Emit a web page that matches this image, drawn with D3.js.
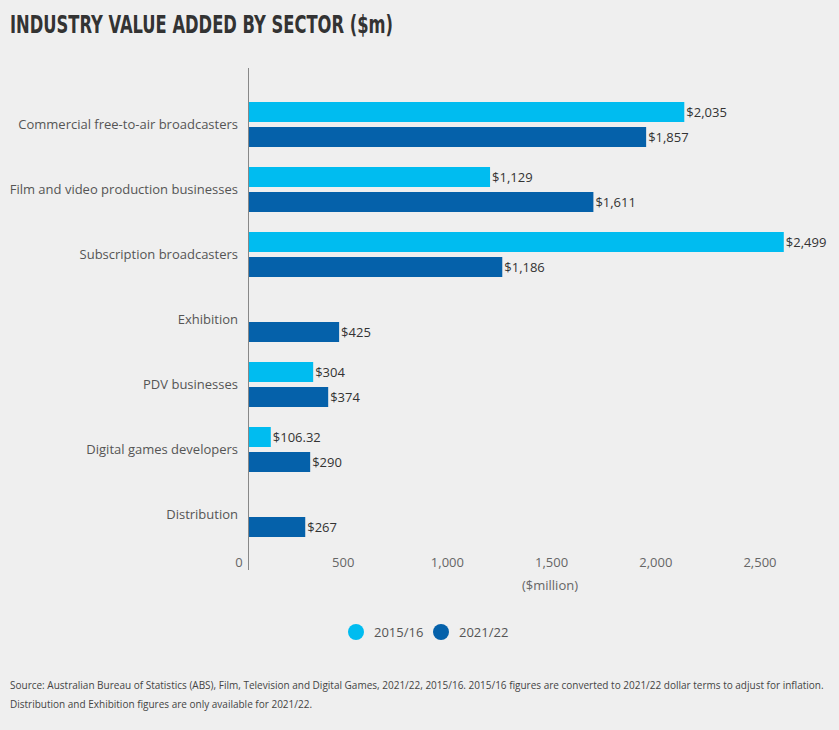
<!DOCTYPE html>
<html>
<head>
<meta charset="utf-8">
<script src="https://cdn.jsdelivr.net/npm/d3@7"></script>
<style>
  html, body { margin: 0; padding: 0; background: #efefef; }
  body { width: 839px; height: 730px; overflow: hidden; font-family: "Open Sans", sans-serif; }
</style>
</head>
<body>
<div id="chart"></div>
<script>
var width = 839
var height = 730

// data
var categories = ["Commercial free-to-air broadcasters", "Film and video production businesses", "Subscription broadcasters", "Exhibition", "PDV businesses", "Digital games developers", "Distribution"]
var seriesNames = ["2015/16", "2021/22"]
var values1516 = [2035, 1129, 2499, null, 304, 106.32, null]
var values2122 = [1857, 1611, 1186, 425, 374, 290, 267]
var labels1516 = ["$2,035", "$1,129", "$2,499", null, "$304", "$106.32", null]
var labels2122 = ["$1,857", "$1,611", "$1,186", "$425", "$374", "$290", "$267"]
var tickValues = [0, 500, 1000, 1500, 2000, 2500]
var colors = ["#00bcf0", "#0561aa"]

var svg = d3.select("#chart")
    .append("svg")
    .attr("width", width)
    .attr("height", height)

svg.append("text")
    .attr("x", 10)
    .attr("y", 33)
    .attr("textLength", 383)
    .attr("lengthAdjust", "spacingAndGlyphs")
    .style("font-family", "'DejaVu Sans Condensed', 'DejaVu Sans', sans-serif")
    .style("font-weight", "bold")
    .style("font-size", "24px")
    .style("fill", "#333")
    .text("INDUSTRY VALUE ADDED BY SECTOR ($m)")

var x = d3.scaleLinear().domain([0, 2500]).range([248, 784])
// tick labels in the reference sit on their own slightly narrower spacing
var xTick = d3.scaleLinear().domain([0, 2500]).range([239, 760])

var y = d3.scaleBand()
    .domain(categories)
    .range([92, 547])
    .paddingInner(20 / 65)
    .paddingOuter(10 / 65)

var ySub = d3.scaleBand()
    .domain(seriesNames)
    .range([0, y.bandwidth()])
    .paddingInner(0.2)

var rows = categories.map((c, i) => ({
    name: c,
    bars: [
        { series: seriesNames[0], value: values1516[i], label: labels1516[i], color: colors[0] },
        { series: seriesNames[1], value: values2122[i], label: labels2122[i], color: colors[1] }
    ].filter(b => b.value != null)
}))

// axis line
svg.append("line")
    .attr("x1", x(0) + 0.5).attr("x2", x(0) + 0.5)
    .attr("y1", 68).attr("y2", 570)
    .style("stroke", "#888")
    .style("stroke-width", 1)

// category labels
svg.append("g")
    .selectAll("text")
    .data(categories)
    .enter()
    .append("text")
        .attr("x", 238)
        .attr("y", d => y(d) + y.bandwidth() / 2)
        .attr("dy", "0.32em")
        .style("text-anchor", "end")
        .style("font-size", "13px")
        .style("fill", "#555")
        .text(d => d)

var group = svg.append("g")
    .selectAll("g")
    .data(rows)
    .enter()
    .append("g")
    .attr("transform", d => "translate(0," + y(d.name) + ")")

group.selectAll("rect")
    .data(d => d.bars)
    .enter()
    .append("rect")
        .attr("x", x(0) + 1)
        .attr("y", d => ySub(d.series))
        .attr("width", d => x(d.value) - x(0) - 1)
        .attr("height", ySub.bandwidth())
        .style("fill", d => d.color)

group.selectAll(".val")
    .data(d => d.bars)
    .enter()
    .append("text")
        .attr("class", "val")
        .attr("x", d => x(d.value) + 2)
        .attr("y", d => ySub(d.series) + ySub.bandwidth() / 2)
        .attr("dy", "0.35em")
        .style("font-size", "13px")
        .style("fill", "#333")
        .text(d => d.label)

// tick labels
svg.append("g")
    .selectAll("text")
    .data(tickValues)
    .enter()
    .append("text")
        .attr("x", d => xTick(d))
        .attr("y", 567)
        .style("text-anchor", "middle")
        .style("font-size", "13px")
        .style("fill", "#666")
        .text(d => d3.format(",")(d))

svg.append("text")
    .attr("x", 550)
    .attr("y", 590)
    .style("text-anchor", "middle")
    .style("font-size", "13px")
    .style("fill", "#666")
    .text("($million)")

// legend
var legend = svg.append("g")
    .selectAll("g")
    .data(seriesNames)
    .enter()
    .append("g")
    .attr("transform", (d, i) => "translate(" + (356 + i * 85) + ",632)")

legend.append("circle")
    .attr("r", 8)
    .style("fill", (d, i) => colors[i])

legend.append("text")
    .attr("x", 18)
    .attr("dy", "0.35em")
    .style("font-size", "13px")
    .style("fill", "#555")
    .text(d => d)

// source notes
var notes = [
    "Source: Australian Bureau of Statistics (ABS), Film, Television and Digital Games, 2021/22, 2015/16. 2015/16 figures are converted to 2021/22 dollar terms to adjust for inflation.",
    "Distribution and Exhibition figures are only available for 2021/22."
]
svg.append("g")
    .selectAll("text")
    .data(notes)
    .enter()
    .append("text")
        .attr("x", 10)
        .attr("y", (d, i) => 689 + i * 18.5)
        .style("font-size", "10px")
        .style("fill", "#444")
        .text(d => d)
</script>
</body>
</html>
